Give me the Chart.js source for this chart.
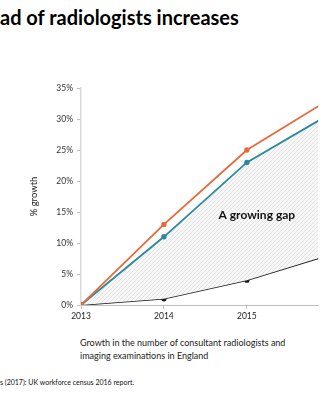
<!DOCTYPE html>
<html>
<head>
<meta charset="utf-8">
<script src="https://cdn.jsdelivr.net/npm/chart.js@4/dist/chart.umd.min.js"></script>
<style>
  html, body { margin:0; padding:0; background:#fff; }
  body { width:324px; height:400px; position:relative; overflow:hidden; font-family:Lato, "Open Sans", sans-serif; }
  #title { position:absolute; left:0; top:5px; font-size:20px; font-weight:bold; color:#000; white-space:nowrap; }
  #wrap { position:absolute; left:20px; top:60px; width:304px; height:270px; }
  #caption { position:absolute; left:80px; top:336px; font-size:9px; line-height:13px; color:#222; white-space:nowrap; }
  #note { position:absolute; left:0; top:378px; font-size:7px; color:#111; white-space:nowrap; }
</style>
</head>
<body>
<div id="title">ad of radiologists increases</div>
<div id="wrap"><canvas id="chart"></canvas></div>
<div id="caption">Growth in the number of consultant radiologists and<br>imaging examinations in England</div>
<div id="note">s (2017): UK workforce census 2016 report.</div>
<script>
// years on the x axis, values in % growth since 2013
const years = [2013, 2014, 2015, 2016];
const examGrowth = [0, 13, 25, 33.2];      // orange
const reportGrowth = [0, 11, 23, 30.8];    // teal
const radiologistGrowth = [0, 1, 4, 8.1];  // black
const yTicks = [0, 5, 10, 15, 20, 25, 30, 35];
const xTicks = [2013, 2014, 2015];

// faint diagonal hatch for the gap
function hatch(){
  const c = document.createElement('canvas');
  c.width = 4; c.height = 4;
  const g = c.getContext('2d');
  g.fillStyle = '#f8f8f8'; g.fillRect(0,0,4,4);
  g.strokeStyle = '#e2e2e2'; g.lineWidth = 1;
  g.beginPath();
  g.moveTo(0,4); g.lineTo(4,0);
  g.moveTo(-1,1); g.lineTo(1,-1);
  g.moveTo(3,5); g.lineTo(5,3);
  g.stroke();
  return g.createPattern(c,'repeat');
}

const pts = arr => years.map((y,i)=>({x:y, y:arr[i]}));

const gapLabel = {
  id:'gapLabel',
  afterDatasetsDraw(chart){
    const {ctx, scales:{x,y}} = chart;
    ctx.save();
    ctx.font = 'bold 12px Lato, sans-serif';
    ctx.fillStyle = '#111';
    ctx.textAlign = 'center'; ctx.textBaseline = 'middle';
    ctx.fillText('A growing gap', x.getPixelForValue(2015.12), y.getPixelForValue(14.5));
    ctx.restore();
  }
};

new Chart(document.getElementById('chart'), {
  type:'line',
  data:{
    datasets:[
      {label:'Examinations', data:pts(examGrowth), borderColor:'#e8693c', backgroundColor:'#e8693c', borderWidth:1.8, pointRadius:1.8, pointBackgroundColor:'#e8693c', fill:false, order:1},
      {label:'Reporting', data:pts(reportGrowth), borderColor:'#2b88a0', backgroundColor:hatch(), borderWidth:1.8, pointRadius:1.8, pointBackgroundColor:'#2b88a0', pointBorderColor:'#2b88a0', fill:{target:2}, order:2},
      {label:'Radiologists', data:pts(radiologistGrowth), borderColor:'#1a1a1a', backgroundColor:'#1a1a1a', borderWidth:1.6, pointRadius:1.8, fill:false, order:3}
    ]
  },
  options:{
    responsive:true, maintainAspectRatio:false, animation:false,
    layout:{padding:{top:28, right:0, left:0, bottom:0}},
    plugins:{legend:{display:false}, tooltip:{enabled:false}},
    scales:{
      x:{
        type:'linear', min:2013, max:2015.86,
        afterFit(s){ s.height = 25; },
        afterBuildTicks(s){ s.ticks = xTicks.map(v=>({value:v})); },
        ticks:{callback:v=>String(v), color:'#222', font:{size:8.5, family:'Lato, sans-serif'}, padding:2, maxRotation:0},
        grid:{drawOnChartArea:false, drawTicks:true, tickLength:4, color:'#bfbfbf'},
        border:{color:'#bfbfbf', width:1}
      },
      y:{
        min:0, max:35,
        afterFit(s){ s.width = 61; },
        afterBuildTicks(s){ s.ticks = yTicks.map(v=>({value:v})); },
        ticks:{callback:v=>v+'%', color:'#333', font:{size:8.5, family:'Lato, sans-serif'}, padding:4},
        grid:{drawOnChartArea:false, drawTicks:true, tickLength:4, color:'#bfbfbf'},
        border:{color:'#d9d9d9', width:1.5},
        title:{display:true, text:'% growth', color:'#222', font:{size:9.5, family:'Lato, sans-serif'}, padding:{top:8, bottom:0}}
      }
    }
  },
  plugins:[gapLabel]
});
</script>
</body>
</html>
